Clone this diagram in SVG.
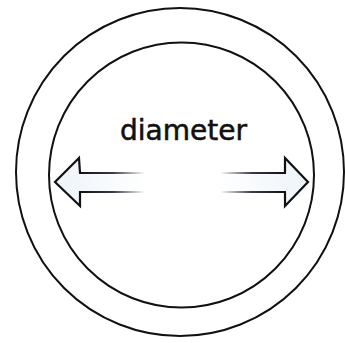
<svg xmlns="http://www.w3.org/2000/svg" width="345" height="343" viewBox="0 0 345 343">
<style>
.ring{fill:none;stroke:#111;stroke-width:2}
.head{fill:none;stroke:#111;stroke-width:2.2;stroke-linejoin:miter}
.lbl{font-family:"DejaVu Sans Condensed","DejaVu Sans",sans-serif;font-size:28.5px;fill:#111;stroke:#111;stroke-width:0.5}
</style>
<defs>
<linearGradient id="gl" gradientUnits="userSpaceOnUse" x1="80" y1="0" x2="145" y2="0">
<stop offset="0" stop-color="#111" stop-opacity="1"/>
<stop offset="0.5" stop-color="#223" stop-opacity="0.9"/>
<stop offset="1" stop-color="#223" stop-opacity="0"/>
</linearGradient>
<linearGradient id="gr" gradientUnits="userSpaceOnUse" x1="285" y1="0" x2="220" y2="0">
<stop offset="0" stop-color="#111" stop-opacity="1"/>
<stop offset="0.5" stop-color="#223" stop-opacity="0.9"/>
<stop offset="1" stop-color="#223" stop-opacity="0"/>
</linearGradient>
<linearGradient id="fl" gradientUnits="userSpaceOnUse" x1="55" y1="0" x2="145" y2="0">
<stop offset="0" stop-color="#eef4fa"/>
<stop offset="1" stop-color="#ffffff"/>
</linearGradient>
<linearGradient id="fr" gradientUnits="userSpaceOnUse" x1="307" y1="0" x2="220" y2="0">
<stop offset="0" stop-color="#eef4fa"/>
<stop offset="1" stop-color="#ffffff"/>
</linearGradient>
</defs>
<rect width="345" height="343" fill="#fff"/>
<g id="outer-circle"><circle class="ring" cx="180" cy="172" r="164"/></g>
<g id="inner-circle"><circle class="ring" cx="181.5" cy="175" r="132.5"/></g>
<g id="label"><text class="lbl" x="120" y="140" textLength="127" lengthAdjust="spacingAndGlyphs">diameter</text></g>
<g id="connectors">
<g id="arrow-left">
<polygon points="145,173 80,173 79,158 55,182 80,206 80,192 145,192" fill="url(#fl)"/>
<polyline class="head" points="80,173 79,158 55,182 80,206 80,192"/>
<line x1="79" y1="173" x2="145" y2="173" stroke="url(#gl)" stroke-width="2.2"/>
<line x1="79" y1="192" x2="145" y2="192" stroke="url(#gl)" stroke-width="2.2"/>
</g>
<g id="arrow-right">
<polygon points="220,173 285,173 285,158 308,182 285,206 285,192 220,192" fill="url(#fr)"/>
<polyline class="head" points="285,173 285,158 308,182 285,206 285,192"/>
<line x1="286" y1="173" x2="220" y2="173" stroke="url(#gr)" stroke-width="2.2"/>
<line x1="286" y1="192" x2="220" y2="192" stroke="url(#gr)" stroke-width="2.2"/>
</g>
</g>
</svg>
